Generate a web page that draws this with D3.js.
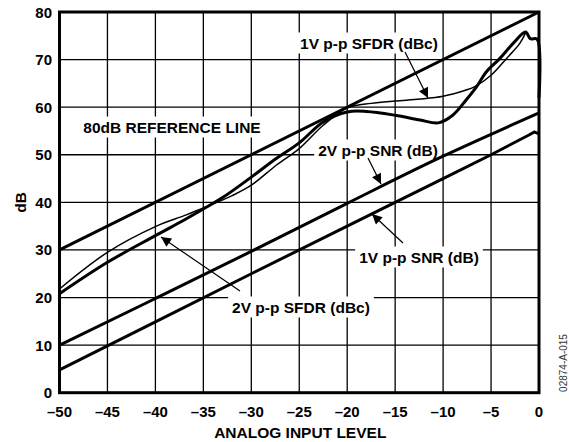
<!DOCTYPE html>
<html>
<head>
<meta charset="utf-8">
<script src="https://cdn.jsdelivr.net/npm/d3@7"></script>
<style>
  body { margin: 0; background: #fff; }
  text { font-family: "Liberation Sans", Arial, sans-serif; font-weight: bold; fill: #000; }
</style>
</head>
<body>
<div id="chart"></div>
<script>
// tick values
var xTicks = [-50, -45, -40, -35, -30, -25, -20, -15, -10, -5, 0];
var yTicks = [0, 10, 20, 30, 40, 50, 60, 70, 80];

// 80dB reference line (input level -> dB)
var refLevel = [-50, 0];
var refDb = [30, 80];

// 2V p-p SNR (dB)
var snr2Level = [-50, -40, -30, -20, -10, -5, 0];
var snr2Db = [10, 19.8, 29.7, 39.8, 49.7, 54.3, 58.8];

// 1V p-p SNR (dB)
var snr1Level = [-50, -40, -30, -20, -10, -5, -1, -0.5, 0];
var snr1Db = [4.8, 14.9, 25, 35, 45, 50, 54.2, 54.8, 54.4];

// 2V p-p SFDR (dBc)
var sfdr2Level = [-50, -45, -40, -37, -35, -33, -30, -27.4, -25, -22.5, -20, -18, -15, -12.4, -10.5, -9, -7.6, -6.5, -5.5, -4.1, -2.7, -1.4, -0.9, -0.2, 0];
var sfdr2Db = [20.8, 27.4, 33, 36.3, 38.6, 41, 45.3, 49.2, 52.5, 56.9, 59, 59.1, 58.3, 57.3, 56.7, 58.3, 61.5, 64.3, 67.4, 70.2, 73.4, 75.8, 74.4, 74.3, 62];

// 1V p-p SFDR (dBc)
var sfdr1Level = [-50, -45, -40, -37, -35, -32, -30, -27.4, -25, -22.5, -20, -17.5, -15, -12.4, -10, -7.6, -6.7, -5, -3.4, -2, -1.4];
var sfdr1Db = [21.8, 29.5, 34.9, 37.2, 38.8, 41.4, 43.6, 47.8, 51.3, 56.2, 59.8, 60.8, 61.3, 61.7, 62.3, 63.6, 64.3, 66.7, 70.2, 73.4, 75.6];

function base() {
    var w = 569, h = 442;
    var x = d3.scaleLinear().domain([-50, 0]).range([59.5, 539]);
    var y = d3.scaleLinear().domain([0, 80]).range([392.7, 12]);

    var svg = d3.select("#chart").append("svg")
        .attr("width", w).attr("height", h);

    svg.append("defs").append("marker")
        .attr("id", "arrow")
        .attr("viewBox", "0 0 10 10")
        .attr("refX", 10).attr("refY", 5)
        .attr("markerWidth", 16).attr("markerHeight", 10)
        .attr("markerUnits", "userSpaceOnUse")
        .attr("orient", "auto")
        .append("path").attr("d", "M0,0 L10,5 L0,10 Z").attr("fill", "#000");

    // grid
    svg.append("g").selectAll("line").data(xTicks).enter().append("line")
        .attr("x1", d => x(d)).attr("x2", d => x(d))
        .attr("y1", y(0)).attr("y2", y(80))
        .attr("stroke", "#000").attr("stroke-width", 1.3);
    svg.append("g").selectAll("line").data(yTicks).enter().append("line")
        .attr("x1", x(-50)).attr("x2", x(0))
        .attr("y1", d => y(d)).attr("y2", d => y(d))
        .attr("stroke", "#000").attr("stroke-width", 1.3);

    // tick labels
    svg.append("g").selectAll("text").data(yTicks).enter().append("text")
        .attr("x", 52).attr("y", d => y(d) + 5.5)
        .attr("text-anchor", "end").style("font-size", "15px")
        .text(d => d);
    svg.append("g").selectAll("text").data(xTicks).enter().append("text")
        .attr("x", d => x(d)).attr("y", 416.5)
        .attr("text-anchor", "middle").style("font-size", "15px")
        .text(d => d < 0 ? "\u2013" + Math.abs(d) : d);

    svg.append("text").attr("x", x(-25) + 1).attr("y", 438)
        .attr("text-anchor", "middle").style("font-size", "15.5px")
        .text("ANALOG INPUT LEVEL");
    svg.append("text")
        .attr("transform", "translate(26," + y(40) + ") rotate(-90)")
        .attr("text-anchor", "middle").style("font-size", "15.5px")
        .text("dB");
    svg.append("text")
        .attr("transform", "translate(567,363) rotate(-90)")
        .attr("text-anchor", "middle")
        .style("font-size", "10px").style("font-weight", "normal").style("fill", "#333")
        .text("02874-A-015");

    // annotation labels with white boxes
    var labels = [
        { t: "80dB REFERENCE LINE", cx: 172, cy: 127 },
        { t: "1V p-p SFDR (dBc)", cx: 369, cy: 43 },
        { t: "2V p-p SNR (dB)", cx: 378, cy: 150 },
        { t: "1V p-p SNR (dB)", cx: 419, cy: 257 },
        { t: "2V p-p SFDR (dBc)", cx: 301, cy: 307 }
    ];
    var lg = svg.append("g");
    labels.forEach(function(l) {
        var r = lg.append("rect").attr("fill", "#fff");
        var t = lg.append("text").attr("x", l.cx).attr("y", l.cy + 5.5)
            .attr("text-anchor", "middle").style("font-size", "15.5px").text(l.t);
        var b = t.node().getBBox();
        r.attr("x", b.x - 4).attr("y", b.y - 2).attr("width", b.width + 8).attr("height", b.height + 4);
    });

    // frame
    svg.append("rect").attr("x", x(-50)).attr("y", y(80))
        .attr("width", x(0) - x(-50)).attr("height", y(0) - y(80))
        .attr("fill", "none").attr("stroke", "#000").attr("stroke-width", 3);

    function draw(lv, db, sw, curve) {
        var pts = lv.map((v, i) => [v, db[i]]);
        svg.append("path").datum(pts)
            .attr("d", d3.line().x(d => x(d[0])).y(d => y(d[1])).curve(curve))
            .attr("fill", "none").attr("stroke", "#000").attr("stroke-width", sw)
            .attr("stroke-linejoin", "round");
    }
    draw(refLevel, refDb, 3, d3.curveLinear);
    draw(snr2Level, snr2Db, 3, d3.curveMonotoneX);
    draw(snr1Level, snr1Db, 3, d3.curveLinear);
    draw(sfdr1Level, sfdr1Db, 1.5, d3.curveCatmullRom);
    draw(sfdr2Level, sfdr2Db, 3, d3.curveCatmullRom);

    // arrows
    var arrows = [
        [405, 52, 428, 98],
        [368, 158, 381, 184],
        [403, 243, 372, 214],
        [240, 291, 161, 237]
    ];
    svg.append("g").selectAll("line").data(arrows).enter().append("line")
        .attr("x1", d => d[0]).attr("y1", d => d[1])
        .attr("x2", d => d[2]).attr("y2", d => d[3])
        .attr("stroke", "#000").attr("stroke-width", 1.2)
        .attr("marker-end", "url(#arrow)");
}

window.onload = base;
</script>
</body>
</html>
